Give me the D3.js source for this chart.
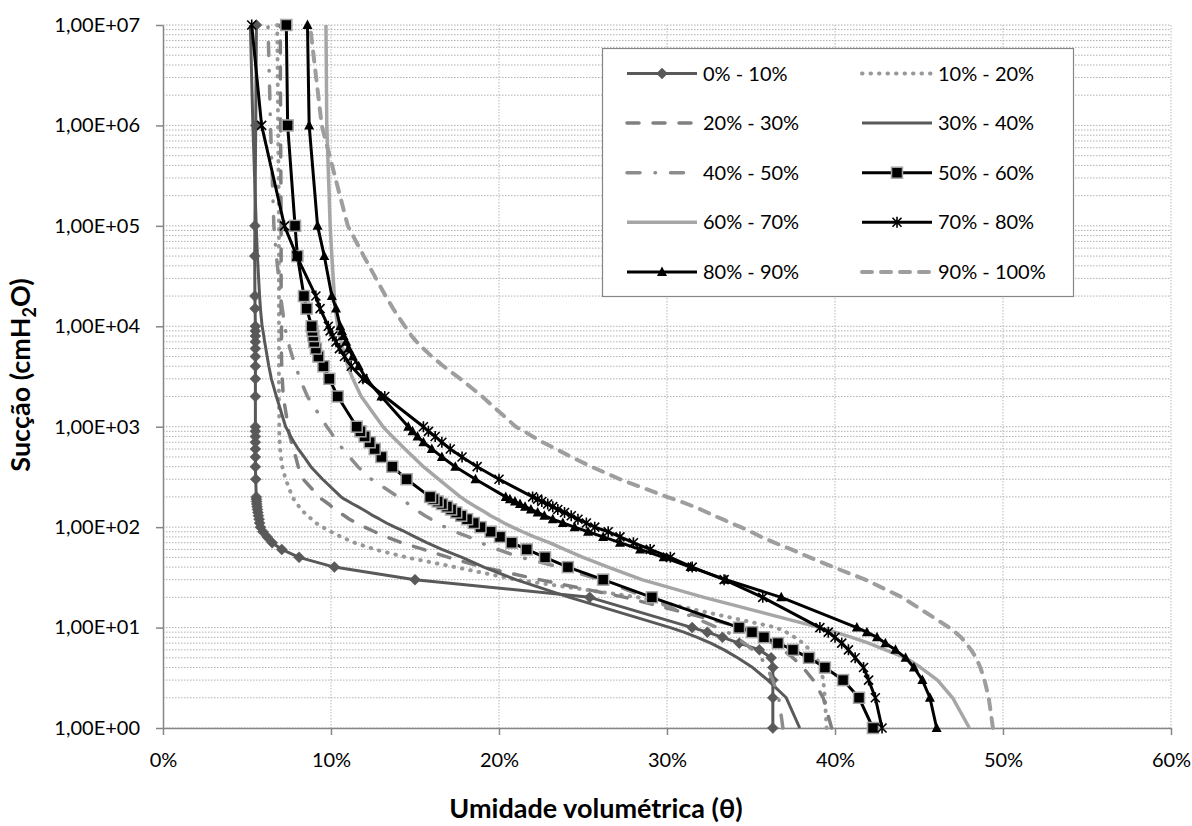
<!DOCTYPE html>
<html>
<head>
<meta charset="utf-8">
<script src="https://cdn.jsdelivr.net/npm/d3@7"></script>
<style>
  body { margin: 0; background: #fff; }
  svg text { font-family: Lato, "Liberation Sans", sans-serif; fill: #000; }
</style>
</head>
<body>
<svg id="chart" width="1192" height="826"></svg>
<script>
// Suction levels (cmH2O) shared by every curve
const suction = [1,2,3,4,5,6,7,8,9,10,
  20,30,40,50,60,70,80,90,100,
  110,120,130,140,150,160,170,180,190,200,
  300,400,500,600,700,800,900,1000,
  2000,3000,4000,5000,6000,7000,8000,9000,10000,
  15000,20000,50000,100000,1000000,10000000];

// Volumetric water content (%) for each depth class, aligned with `suction`
const theta_0_10 = [36.3,36.3,36.3,36.3,36.2,35.5,34.3,33.3,32.4,31.5,
  25.4,15.0,10.2,8.1,7.07,6.5,6.2,5.95,5.8,
  5.75,5.72,5.68,5.65,5.62,5.6,5.58,5.57,5.56,5.55,
  5.52,5.5,5.5,5.5,5.5,5.5,5.5,5.5,
  5.5,5.5,5.5,5.5,5.5,5.5,5.5,5.5,5.5,
  5.48,5.47,5.46,5.47,5.52,5.56];
const theta_10_20 = [39.5,39.4,39.3,39.15,38.9,38.5,38.1,37.6,37.1,36.5,
  28.3,21.0,17.4,14.5,12.6,11.4,10.6,10.0,9.5,
  9.1,8.85,8.6,8.4,8.25,8.1,8.0,7.9,7.78,7.7,
  7.3,7.1,7.02,6.97,6.95,6.93,6.92,6.92,
  6.9,6.9,6.9,6.9,6.9,6.9,6.9,6.9,6.9,
  6.9,6.9,6.9,6.9,6.85,6.8];
const theta_20_30 = [39.8,39.3,38.7,38.1,37.5,36.9,36.3,35.7,35.1,34.5,
  27.5,22.4,19.0,17.0,15.5,14.2,13.3,12.6,12.0,
  11.5,11.1,10.8,10.5,10.3,10.05,9.85,9.65,9.45,9.3,
  8.35,8.05,7.9,7.75,7.65,7.55,7.48,7.45,
  7.16,7.1,7.07,7.05,7.05,7.05,7.05,7.05,7.05,
  7.03,7.03,7.03,7.03,7.0,6.98];
const theta_30_40 = [37.9,37.1,36.0,35.1,34.2,33.4,32.6,31.8,31.0,30.2,
  24.2,21.0,19.1,17.8,16.6,15.7,15.0,14.4,13.8,
  13.3,12.9,12.5,12.2,11.9,11.6,11.3,11.05,10.8,10.6,
  9.5,8.8,8.4,8.05,7.8,7.6,7.45,7.3,
  6.75,6.45,6.3,6.2,6.12,6.05,6.0,5.95,5.9,
  5.8,5.75,5.62,5.55,5.35,5.2];
const theta_40_50 = [36.9,36.65,36.3,35.95,35.6,35.1,34.6,34.1,33.6,33.0,
  28.8,26.0,23.6,21.3,19.9,18.9,18.2,17.4,16.8,
  16.3,15.95,15.6,15.3,15.1,14.85,14.6,14.4,14.2,14.0,
  12.4,11.6,11.1,10.7,10.4,10.15,9.95,9.75,
  8.6,8.15,7.9,7.7,7.55,7.45,7.38,7.3,7.25,
  7.1,7.0,6.75,6.6,6.4,6.25];
const theta_50_60 = [42.26,41.43,40.48,39.4,38.45,37.5,36.6,35.77,35.06,34.29,
  29.1,26.2,24.1,22.74,21.65,20.75,20.06,19.5,18.9,
  18.5,18.1,17.75,17.45,17.15,16.9,16.6,16.35,16.1,15.9,
  14.5,13.65,13.0,12.6,12.3,12.0,11.75,11.53,
  10.4,9.9,9.55,9.25,9.1,9.0,8.95,8.9,8.85,
  8.55,8.39,8.0,7.86,7.42,7.34];
const theta_60_70 = [48.0,47.0,46.1,45.1,44.2,43.0,42.0,41.0,40.0,39.1,
  32.2,28.5,26.5,25.0,23.9,23.0,22.1,21.4,20.8,
  20.3,19.9,19.5,19.2,18.9,18.6,18.35,18.1,17.9,17.7,
  16.4,15.5,14.9,14.4,14.0,13.65,13.35,13.1,
  11.8,11.3,11.0,10.85,10.7,10.6,10.5,10.45,10.4,
  10.25,10.2,10.05,9.95,9.75,9.7];
const theta_70_80 = [42.8,42.4,42.0,41.7,41.2,40.8,40.4,40.0,39.6,39.1,
  35.7,33.4,31.5,30.2,29.0,28.0,27.2,26.5,25.7,
  25.2,24.7,24.3,23.9,23.5,23.2,22.9,22.55,22.3,22.0,
  20.0,18.7,17.8,17.1,16.6,16.2,15.8,15.5,
  13.2,11.9,11.2,10.8,10.5,10.3,10.1,9.95,9.84,
  9.35,9.1,7.96,7.23,5.87,5.28];
const theta_80_90 = [46.05,45.65,45.2,44.7,44.2,43.6,43.0,42.5,41.9,41.3,
  36.8,33.5,31.4,29.8,28.4,27.2,26.2,25.3,24.5,
  23.8,23.2,22.7,22.3,21.9,21.55,21.25,20.95,20.65,20.4,
  18.6,17.4,16.6,16.0,15.5,15.15,14.85,14.6,
  13.0,12.1,11.65,11.3,11.05,10.9,10.75,10.65,10.55,
  10.3,10.05,9.6,9.2,8.7,8.6];
const theta_90_100 = [49.4,49.15,48.9,48.65,48.4,48.1,47.8,47.5,47.15,46.8,
  44.0,41.8,39.9,38.5,37.4,36.4,35.6,35.0,34.4,
  33.8,33.3,32.8,32.4,32.0,31.6,31.2,30.8,30.4,30.0,
  27.2,25.5,24.3,23.4,22.6,22.0,21.5,21.0,
  19.0,17.7,16.7,16.0,15.5,15.1,14.8,14.6,14.4,
  13.7,13.25,11.95,11.0,9.45,8.75];

const seriesNames = ["0% - 10%","10% - 20%","20% - 30%","30% - 40%","40% - 50%",
  "50% - 60%","60% - 70%","70% - 80%","80% - 90%","90% - 100%"];
const seriesValues = [theta_0_10, theta_10_20, theta_20_30, theta_30_40, theta_40_50,
  theta_50_60, theta_60_70, theta_70_80, theta_80_90, theta_90_100];

const xTicks = [0,10,20,30,40,50,60];
const xTickLabels = ["0%","10%","20%","30%","40%","50%","60%"];
const yTicks = [1,10,100,1000,10000,100000,1000000,10000000];
const yTickLabels = ["1,00E+00","1,00E+01","1,00E+02","1,00E+03","1,00E+04","1,00E+05","1,00E+06","1,00E+07"];

// Drawing styles per series
const styles = [
  {color:"#595959", width:3,   dash:null,            cap:"butt",  marker:"diamond"},
  {color:"#999999", width:4,   dash:"0.5 8",         cap:"round", marker:null},
  {color:"#808080", width:3.5, dash:"12 14",         cap:"round", marker:null},
  {color:"#595959", width:3,   dash:null,            cap:"butt",  marker:null},
  {color:"#8c8c8c", width:3.5, dash:"13 15 0.5 15",  cap:"round", marker:null},
  {color:"#000000", width:3,   dash:null,            cap:"butt",  marker:"square"},
  {color:"#a6a6a6", width:3.5, dash:null,            cap:"butt",  marker:null},
  {color:"#000000", width:3,   dash:null,            cap:"butt",  marker:"star"},
  {color:"#000000", width:3,   dash:null,            cap:"butt",  marker:"triangle"},
  {color:"#9e9e9e", width:4,   dash:"10 9",          cap:"round", marker:null}
];

const svg = d3.select("#chart");
const plotLeft = 163, plotRight = 1171, plotTop = 25, plotBottom = 728;

const x = d3.scaleLinear().domain([0, 60]).range([plotLeft, plotRight]);
const y = d3.scaleLog().domain([1, 1e7]).range([plotBottom, plotTop]);

// Dotted gridlines: every 1..9 step inside each decade
const gridG = svg.append("g");
const yGrid = [];
for (let i = 0; i < yTicks.length - 1; i++) {
  for (let k = 1; k <= 9; k++) yGrid.push(yTicks[i] * k);
}
yGrid.push(yTicks[yTicks.length - 1]);
gridG.selectAll("line.hg").data(yGrid).join("line")
  .attr("x1", plotLeft).attr("x2", plotRight)
  .attr("y1", d => y(d)).attr("y2", d => y(d))
  .attr("stroke", "#b0b0b0").attr("stroke-width", 1)
  .attr("stroke-dasharray", "1.5 1.5");
gridG.selectAll("line.vg").data(xTicks.slice(1)).join("line")
  .attr("x1", d => x(d)).attr("x2", d => x(d))
  .attr("y1", plotTop).attr("y2", plotBottom)
  .attr("stroke", "#b8b8b8").attr("stroke-width", 1)
  .attr("stroke-dasharray", "1.5 1.5");

// Axes
const yAxis = d3.axisLeft(y).tickValues(yTicks)
  .tickFormat((d, i) => yTickLabels[i]).tickSize(7).tickSizeOuter(0).tickPadding(16);
const xAxis = d3.axisBottom(x).tickValues(xTicks)
  .tickFormat((d, i) => xTickLabels[i]).tickSize(7).tickSizeOuter(0).tickPadding(18);

const gy = svg.append("g").attr("transform", `translate(${plotLeft},0)`).call(yAxis);
const gx = svg.append("g").attr("transform", `translate(0,${plotBottom})`).call(xAxis);
[gx, gy].forEach(g => {
  g.select(".domain").attr("stroke", "#868686").attr("stroke-width", 1.5);
  g.selectAll(".tick line").attr("stroke", "#868686").attr("stroke-width", 1.5);
  g.selectAll(".tick text").attr("font-size", 20).attr("fill", "#000")
    .style("font-family", "Lato, 'Liberation Sans', sans-serif");
});

// Marker shapes
function drawMarker(g, type, cx, cy) {
  if (type === "diamond") {
    g.append("path").attr("d", `M${cx},${cy-5.5}L${cx+5.5},${cy}L${cx},${cy+5.5}L${cx-5.5},${cy}Z`)
      .attr("fill", "#595959").attr("stroke", "#595959").attr("stroke-width", 0.5);
  } else if (type === "square") {
    g.append("rect").attr("x", cx-5.5).attr("y", cy-5.5).attr("width", 11).attr("height", 11)
      .attr("fill", "#000").attr("stroke", "#a6a6a6").attr("stroke-width", 1.5);
  } else if (type === "star") {
    g.append("path").attr("d",
      `M${cx-4.5},${cy-4.5}L${cx+4.5},${cy+4.5}M${cx-4.5},${cy+4.5}L${cx+4.5},${cy-4.5}M${cx},${cy-5.5}L${cx},${cy+5.5}`)
      .attr("stroke", "#000").attr("stroke-width", 1.6).attr("fill", "none");
  } else if (type === "triangle") {
    g.append("path").attr("d", `M${cx},${cy-5.5}L${cx+5},${cy+4}L${cx-5},${cy+4}Z`)
      .attr("fill", "#000");
  }
}

const line = d3.line().x(d => x(d.t)).y(d => y(d.s));
const plotG = svg.append("g");
seriesValues.forEach((vals, i) => {
  const st = styles[i];
  const pts = vals.map((t, j) => ({t, s: suction[j]}));
  const g = plotG.append("g");
  g.append("path").datum(pts).attr("d", line)
    .attr("fill", "none").attr("stroke", st.color).attr("stroke-width", st.width)
    .attr("stroke-linecap", st.cap).attr("stroke-linejoin", "round")
    .attr("stroke-dasharray", st.dash);
  if (st.marker) pts.forEach(p => drawMarker(g, st.marker, x(p.t), y(p.s)));
});

// Legend
const lg = svg.append("g");
lg.append("rect").attr("x", 602.5).attr("y", 48.5).attr("width", 471).attr("height", 248)
  .attr("fill", "#fff").attr("stroke", "#868686").attr("stroke-width", 1.2);
seriesNames.forEach((name, i) => {
  const st = styles[i];
  const col = i % 2, row = Math.floor(i / 2);
  const x0 = col === 0 ? 627 : 862;
  const cy = 73.5 + row * 49.6;
  lg.append("line").attr("x1", x0).attr("x2", x0 + 70).attr("y1", cy).attr("y2", cy)
    .attr("stroke", st.color).attr("stroke-width", st.width)
    .attr("stroke-linecap", st.cap).attr("stroke-dasharray", st.dash);
  if (st.marker) drawMarker(lg, st.marker, x0 + 35, cy);
  lg.append("text").attr("x", x0 + 76).attr("y", cy + 7).attr("font-size", 20).text(name);
});

// Axis titles
const yt = svg.append("text")
  .attr("transform", `translate(30,375) rotate(-90)`)
  .attr("text-anchor", "middle").attr("font-size", 27).attr("font-weight", "bold");
yt.append("tspan").text("Sucção (cmH");
yt.append("tspan").attr("font-size", 18).attr("dy", 6).text("2");
yt.append("tspan").attr("dy", -6).text("O)");

svg.append("text").attr("x", 596).attr("y", 818).attr("text-anchor", "middle")
  .attr("font-size", 27).attr("font-weight", "bold").text("Umidade volumétrica (θ)");
</script>
</body>
</html>
